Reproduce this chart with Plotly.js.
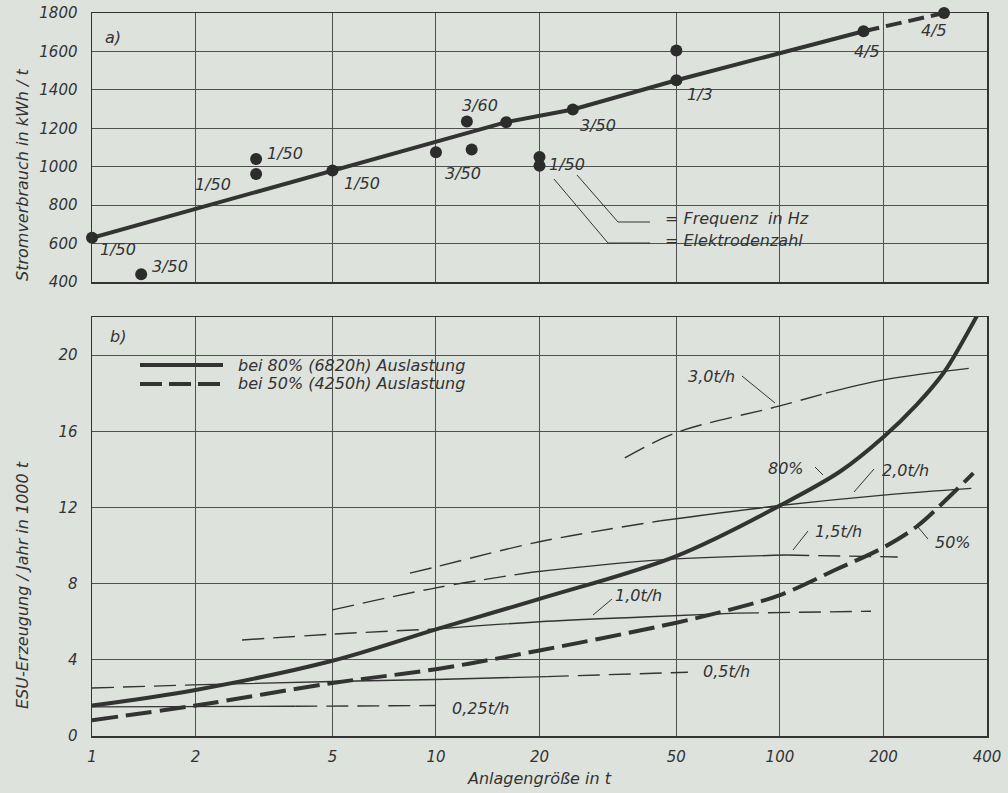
<!DOCTYPE html>
<html><head><meta charset="utf-8">
<script src="https://cdn.plot.ly/plotly-3.0.1.min.js"></script>
<style>html,body{margin:0;padding:0;background:#dde2dc;}#chart{width:1008px;height:793px;}</style>
</head><body><div id="chart"></div>
<script>
// ---------- a) Stromverbrauch (kWh/t) ----------
const pointX = [1, 1.39, 3, 3, 5, 10, 12.3, 12.7, 16, 20, 20, 25, 50, 50, 175, 300];
const pointY = [630, 440, 1040, 962, 980, 1075, 1235, 1089, 1232, 1050, 1005, 1298, 1605, 1450, 1705, 1800];
const trendX = [1, 5, 16, 25, 50, 175];
const trendY = [630, 980, 1232, 1298, 1450, 1705];
const trendDashX = [175, 300];
const trendDashY = [1705, 1800];

// ---------- b) ESU-Erzeugung / Jahr in 1000 t ----------
const c80X = [1, 2, 5, 10, 20, 50, 100, 150, 200, 250, 300, 337, 375];
const c80Y = [1.6, 2.42, 3.95, 5.6, 7.2, 9.45, 12.1, 13.9, 15.7, 17.4, 19.1, 20.6, 22.1];
const c50X = [1, 2, 5, 10, 20, 50, 74, 100, 144, 200, 250, 300, 365];
const c50Y = [0.83, 1.6, 2.78, 3.51, 4.49, 5.95, 6.7, 7.4, 8.7, 9.9, 11.0, 12.3, 13.8];

const t025SolidX = [1, 3.9];      const t025SolidY = [1.53, 1.56];
const t025DashX  = [3.9, 10];     const t025DashY  = [1.56, 1.6];
const t05DashX   = [1, 2.1];      const t05DashY   = [2.52, 2.7];
const t05SolidX  = [2.1, 5, 10, 21]; const t05SolidY = [2.7, 2.86, 2.97, 3.12];
const t05Dash2X  = [21, 54];      const t05Dash2Y  = [3.12, 3.35];
const t10DashX   = [2.73, 5, 10]; const t10DashY   = [5.04, 5.35, 5.62];
const t10SolidX  = [10, 20, 40, 75]; const t10SolidY = [5.62, 6.0, 6.25, 6.45];
const t10Dash2X  = [75, 184];     const t10Dash2Y  = [6.45, 6.55];
const t15DashX   = [5, 10, 19];   const t15DashY   = [6.62, 7.78, 8.6];
const t15SolidX  = [19, 45, 105]; const t15SolidY  = [8.6, 9.25, 9.5];
const t15Dash2X  = [105, 220];    const t15Dash2Y  = [9.5, 9.4];
const t20DashX   = [8.4, 10, 20, 45]; const t20DashY = [8.55, 8.88, 10.2, 11.3];
const t20SolidX  = [45, 100, 200, 360]; const t20SolidY = [11.3, 12.1, 12.65, 13.0];
const t30DashX   = [35.4, 50, 100, 136]; const t30DashY = [14.6, 15.93, 17.33, 18.0];
const t30SolidX  = [136, 200, 354]; const t30SolidY = [18.0, 18.7, 19.3];

const xTickVals = [1, 2, 5, 10, 20, 50, 100, 200, 400];
const xTickText = ['1', '2', '5', '10', '20', '50', '100', '200', '400'];
const yTopTicks = [400, 600, 800, 1000, 1200, 1400, 1600, 1800];
const yBotTicks = [0, 4, 8, 12, 16, 20];

// ---------- layout helpers ----------
const W = 1008, H = 793, ML = 92, MR = 21, MT = 13, MB = 57;
const PW = W - ML - MR, PH = H - MT - MB;
const px = x => (x - ML) / PW;
const py = y => (H - MB - y) / PH;

const INK = '#333333';
const GRID = '#505050';
const FONT = {family: 'DejaVu Sans, sans-serif', size: 15, color: INK, style: 'italic'};
const thin = (dash) => ({color: INK, width: 1.4, dash: dash});
const TD = '22px,9px';

function tr(x, y, line, xa, ya, shape) {
  return {x: x, y: y, type: 'scatter', mode: 'lines', line: Object.assign({shape: shape || 'spline', smoothing: 1}, line),
          xaxis: xa, yaxis: ya, hoverinfo: 'skip', showlegend: false, cliponaxis: true};
}

const traces = [
  // top
  tr(trendX, trendY, {color: INK, width: 4}, 'x2', 'y2', 'linear'),
  tr(trendDashX, trendDashY, {color: INK, width: 4, dash: '16px,7px'}, 'x2', 'y2', 'linear'),
  {x: pointX, y: pointY, type: 'scatter', mode: 'markers', xaxis: 'x2', yaxis: 'y2', showlegend: false,
   marker: {size: 12, color: '#2c2c2c'}, cliponaxis: false, hoverinfo: 'x+y'},
  // bottom thin lines
  tr(t025SolidX, t025SolidY, thin('solid'), 'x', 'y'),
  tr(t025DashX, t025DashY, thin(TD), 'x', 'y'),
  tr(t05DashX, t05DashY, thin(TD), 'x', 'y'),
  tr(t05SolidX, t05SolidY, thin('solid'), 'x', 'y'),
  tr(t05Dash2X, t05Dash2Y, thin(TD), 'x', 'y'),
  tr(t10DashX, t10DashY, thin(TD), 'x', 'y'),
  tr(t10SolidX, t10SolidY, thin('solid'), 'x', 'y'),
  tr(t10Dash2X, t10Dash2Y, thin(TD), 'x', 'y'),
  tr(t15DashX, t15DashY, thin(TD), 'x', 'y'),
  tr(t15SolidX, t15SolidY, thin('solid'), 'x', 'y'),
  tr(t15Dash2X, t15Dash2Y, thin(TD), 'x', 'y'),
  tr(t20DashX, t20DashY, thin(TD), 'x', 'y'),
  tr(t20SolidX, t20SolidY, thin('solid'), 'x', 'y'),
  tr(t30DashX, t30DashY, thin(TD), 'x', 'y'),
  tr(t30SolidX, t30SolidY, thin('solid'), 'x', 'y'),
  // thick curves
  tr(c80X, c80Y, {color: INK, width: 4}, 'x', 'y'),
  tr(c50X, c50Y, {color: INK, width: 4, dash: '26px,8px'}, 'x', 'y')
];

function ann(x, y, text, opts) {
  return Object.assign({xref: 'paper', yref: 'paper', x: px(x), y: py(y), text: text, showarrow: false,
    xanchor: 'center', yanchor: 'middle', font: Object.assign({}, FONT, {size: 16})}, opts || {});
}
function seg(x0, y0, x1, y1, w) {
  return {type: 'line', xref: 'paper', yref: 'paper', x0: px(x0), y0: py(y0), x1: px(x1), y1: py(y1),
          line: {color: INK, width: w || 1}, layer: 'above'};
}

const annotations = [
  ann(113, 37, 'a)'),
  ann(118, 250, '1/50'), ann(170, 266, '3/50'), ann(213, 184, '1/50'), ann(285, 154, '1/50'),
  ann(362, 183, '1/50'), ann(463, 173, '3/50'), ann(480, 105, '3/60'), ann(598, 125, '3/50'),
  ann(567, 164, '1/50'), ann(700, 94, '1/3'), ann(867, 51, '4/5'), ann(934, 30, '4/5'),
  ann(663, 218, '= Frequenz  in Hz', {xanchor: 'left'}),
  ann(663, 240, '= Elektrodenzahl', {xanchor: 'left'}),
  ann(118, 336, 'b)'),
  ann(236, 365, 'bei 80% (6820h) Auslastung', {xanchor: 'left'}),
  ann(236, 384, 'bei 50% (4250h) Auslastung', {xanchor: 'left'}),
  ann(711, 376, '3,0t/h'), ann(786, 468, '80%'), ann(905, 470, '2,0t/h'),
  ann(838, 531, '1,5t/h'), ann(953, 542, '50%'), ann(638, 595, '1,0t/h'),
  ann(726, 671, '0,5t/h'), ann(480, 708, '0,25t/h'),
  ann(22, 175, 'Stromverbrauch in kWh / t', {textangle: -90}),
  ann(22, 585, 'ESU-Erzeugung / Jahr in 1000 t', {textangle: -90})
];

const shapes = [
  // leader lines top
  seg(577, 175, 618, 222), seg(618, 222, 650, 222),
  seg(554, 179, 608, 243), seg(608, 243, 650, 243),
  // legend samples
  seg(140, 365, 223, 365, 4),
  Object.assign(seg(140, 384, 223, 384, 4), {line: {color: INK, width: 4, dash: '22px,7px'}}),
  // leaders bottom
  seg(742, 376, 775, 403), seg(815, 467, 823, 475), seg(854, 492, 874, 469),
  seg(793, 550, 808, 531), seg(918, 527, 928, 539), seg(593, 615, 612, 599)
];

const logRange = [0, Math.log10(400)];
const baseX = {type: 'log', range: logRange, tickmode: 'array', tickvals: xTickVals, ticktext: xTickText,
  showgrid: true, gridcolor: GRID, gridwidth: 1, showline: true, mirror: true, linecolor: INK, linewidth: 1.5,
  zeroline: false, ticks: '', tickfont: FONT, fixedrange: true};

const layout = {
  width: W, height: H,
  margin: {l: ML, r: MR, t: MT, b: MB, pad: 0},
  paper_bgcolor: '#dde2dc', plot_bgcolor: '#dde2dc',
  font: FONT,
  showlegend: false,
  xaxis: Object.assign({}, baseX, {anchor: 'y', domain: [0, 1], ticklabelstandoff: 6,
    title: {text: 'Anlagengröße in t', font: Object.assign({}, FONT, {size: 16}), standoff: 8}}),
  xaxis2: Object.assign({}, baseX, {anchor: 'y2', domain: [0, 1], showticklabels: false}),
  yaxis: {anchor: 'x', domain: [0, py(317)], range: [0, 22], tickmode: 'array', tickvals: yBotTicks,
    showgrid: true, gridcolor: GRID, gridwidth: 1, showline: true, mirror: true, linecolor: INK, linewidth: 1.5,
    zeroline: false, ticks: '', tickfont: FONT, ticklabelstandoff: 10},
  yaxis2: {anchor: 'x2', domain: [py(282), 1], range: [400, 1800], tickmode: 'array', tickvals: yTopTicks,
    showgrid: true, gridcolor: GRID, gridwidth: 1, showline: true, mirror: true, linecolor: INK, linewidth: 1.5,
    zeroline: false, ticks: '', tickfont: FONT, ticklabelstandoff: 10},
  annotations: annotations,
  shapes: shapes
};

Plotly.newPlot('chart', traces, layout, {displayModeBar: false, staticPlot: true});
</script></body></html>
